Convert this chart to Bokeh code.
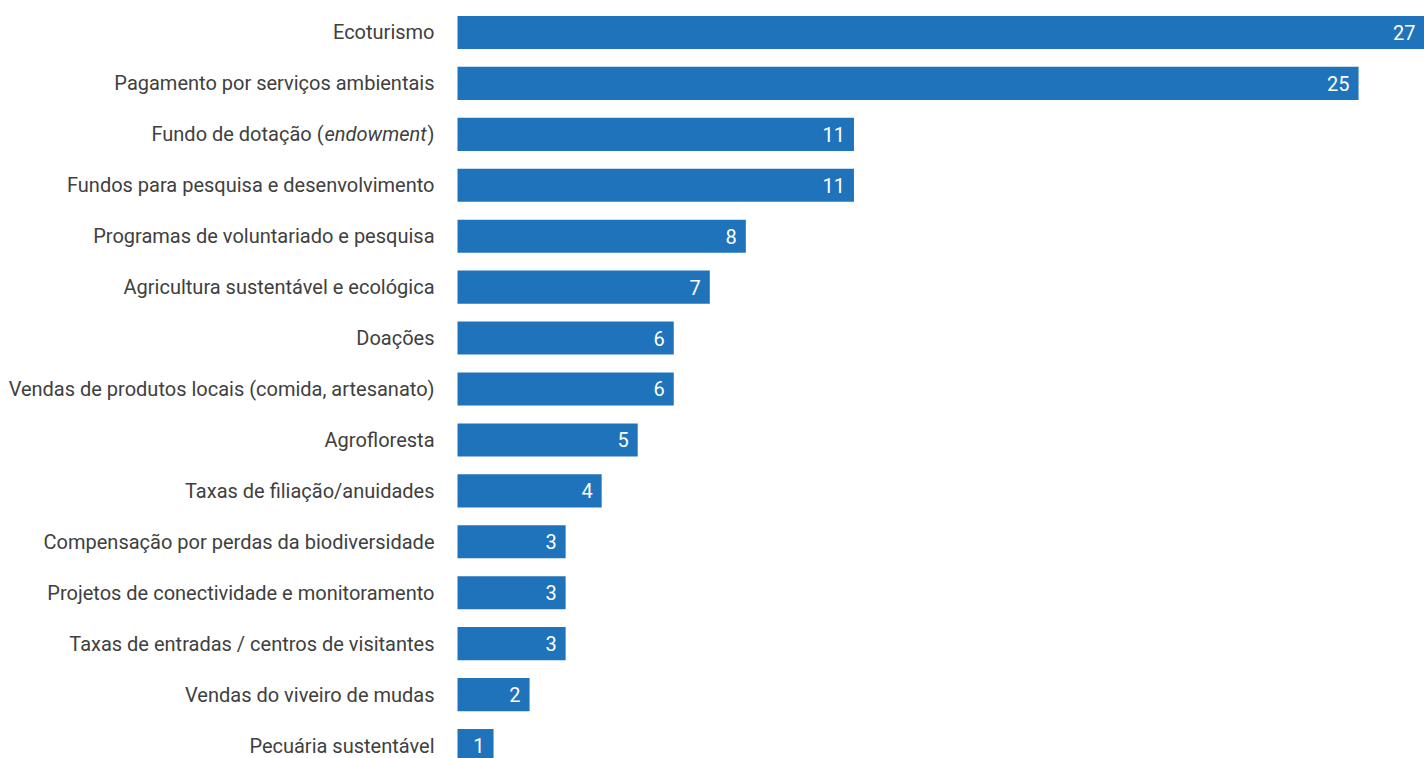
from bokeh.plotting import figure
from bokeh.models import ColumnDataSource, Range1d
from bokeh.embed import file_html
from bokeh.resources import INLINE
from bokeh.core.properties import value

categories = [
    "Ecoturismo",
    "Pagamento por serviços ambientais",
    "Fundo de dotação (endowment)",
    "Fundos para pesquisa e desenvolvimento",
    "Programas de voluntariado e pesquisa",
    "Agricultura sustentável e ecológica",
    "Doações",
    "Vendas de produtos locais (comida, artesanato)",
    "Agrofloresta",
    "Taxas de filiação/anuidades",
    "Compensação por perdas da biodiversidade",
    "Projetos de conectividade e monitoramento",
    "Taxas de entradas / centros de visitantes",
    "Vendas do viveiro de mudas",
    "Pecuária sustentável",
]
counts = [27, 25, 11, 11, 8, 7, 6, 6, 5, 4, 3, 3, 3, 2, 1]
# label with an italic part: (plain prefix, italic word, plain suffix)
italic_label = ("Fundo de dotação (", "endowment", ")")

n = len(categories)
XMIN, XMAX = -12.68, 26.83
ypos = [n - 1 - i for i in range(n)]
label_x = [min(c, XMAX) for c in counts]
special = "".join(italic_label)
cat_txt = ["" if c == special else c for c in categories]

src = ColumnDataSource(dict(
    y=ypos, v=counts, lx=label_x, zero=[0] * n, txt=[str(c) for c in counts], cat=cat_txt
))

FONT = "Roboto"
LCOL = "#404040"

p = figure(width=1424, height=758, output_backend="svg", toolbar_location=None,
           x_range=Range1d(XMIN, XMAX), y_range=Range1d(-0.255, n - 1 + 0.628),
           min_border_left=0, min_border_right=0, min_border_top=0, min_border_bottom=0)

p.hbar(y="y", right="v", left=0, height=0.65, source=src, color="#1f73ba", line_color=None)
p.text(x="lx", y="y", text="txt", source=src, text_align="right", text_baseline="middle",
       x_offset=-9, text_color="white", text_font=value(FONT), text_font_size="20px")
p.text(x="zero", y="y", text="cat", source=src, text_align="right", text_baseline="middle",
       x_offset=-23, text_color=LCOL, text_font=value(FONT), text_font_size="20px")

yi = ypos[categories.index(special)]
pre, ital, suf = italic_label
for part, off, style in ((suf, -23, "normal"), (ital, -31, "italic"), (pre, -134, "normal")):
    p.text(x=[0], y=[yi], text=[part], text_align="right", text_baseline="middle",
           x_offset=off, text_color=LCOL, text_font=value(FONT), text_font_size="20px",
           text_font_style=style)

p.axis.visible = False
p.xgrid.visible = False
p.ygrid.visible = False
p.outline_line_color = None
p.background_fill_color = "white"
p.border_fill_color = "white"

open("out.html", "w").write(file_html(p, INLINE))
